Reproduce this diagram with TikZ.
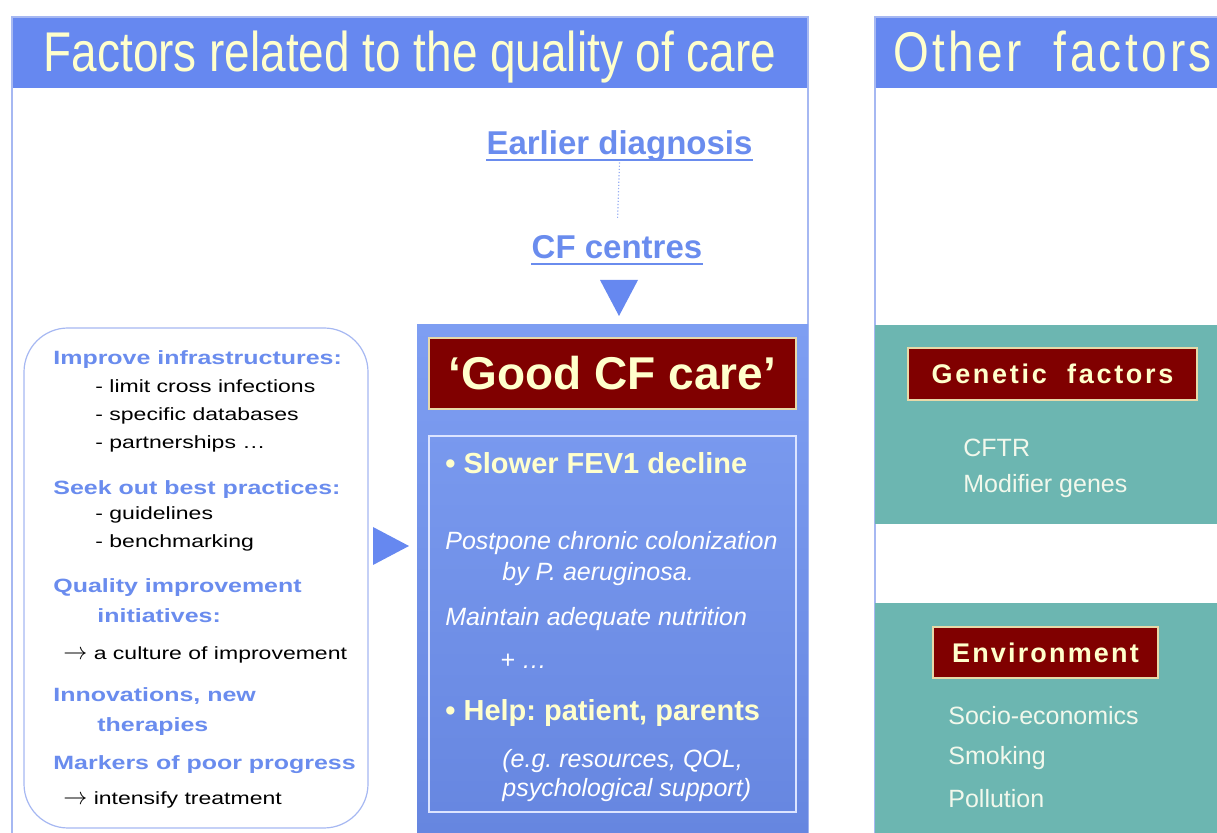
\documentclass[tikz,border=0pt]{standalone}
\usepackage{fontspec}
\setmainfont{Liberation Sans}
\newfontfamily\narrowsans[FakeStretch=0.82]{Liberation Sans}
\newfontfamily\widesans[FakeStretch=1.3]{Liberation Sans}
\usetikzlibrary{calc}
\frenchspacing
\definecolor{header_blue}{HTML}{6688F0}
\definecolor{title_cream}{HTML}{FFFFCC}
\definecolor{link_blue}{HTML}{6A8CEE}
\definecolor{panel_line_colour}{HTML}{A6B8F2}
\definecolor{label_red}{HTML}{800000}
\definecolor{label_border}{HTML}{E8D9A8}
\definecolor{goal_top}{HTML}{7E9EF2}
\definecolor{goal_bottom}{HTML}{6686E0}
\definecolor{inner_frame_colour}{HTML}{DCE4FF}
\definecolor{factor_teal}{HTML}{6CB6B1}
\definecolor{other_text}{HTML}{F2F8EC}
\tikzstyle{panel_line} =[draw=panel_line_colour,line width=0.6pt]
\tikzstyle{panel_title} =[anchor=base,inner sep=0pt,text=title_cream,font=\narrowsans\fontsize{28}{30}\selectfont]
\tikzstyle{care_link} =[anchor=base,inner sep=0pt,text=link_blue,font=\bfseries\fontsize{16.5}{18}\selectfont]
\tikzstyle{red_label} =[fill=label_red,draw=label_border,line width=0.6pt,text=title_cream,inner sep=0pt]
\tikzstyle{goal_bold} =[anchor=base west,inner sep=0pt,text=title_cream,font=\bfseries\fontsize{14.5}{16}\selectfont]
\tikzstyle{goal_italic} =[anchor=base west,inner sep=0pt,text=white,font=\itshape\fontsize{12.5}{14}\selectfont]
\tikzstyle{measure_head} =[anchor=base west,inner sep=0pt,text=link_blue,font=\widesans\bfseries\fontsize{9.6}{11}\selectfont]
\tikzstyle{measure_item} =[anchor=base west,inner sep=0pt,text=black,font=\widesans\fontsize{8.85}{10}\selectfont]
\tikzstyle{other_item} =[anchor=base west,inner sep=0pt,text=other_text,font=\fontsize{12.5}{14}\selectfont]
\newcommand{\leadarrow}{{\fontsize{12}{12}\selectfont$\rightarrow$}}

\begin{document}
\begin{tikzpicture}[x=0.5pt,y=-0.5pt]

    \useasboundingbox (0,0) rectangle (1217,833);



    % Frame and title of the quality of care panel
    \fill[header_blue] (12,17) rectangle (808,88);
    \draw[panel_line] (12,833) -- (12,17) -- (808,17) -- (808,833);
    \node[panel_title] (quality_panel_title) at (410,72) {Factors related to the quality of care};

    % Frame and title of the other factors panel
    \fill[header_blue] (875,17) rectangle (1217,88);
    \draw[panel_line] (875,833) -- (875,17) -- (1217,17);
    \node[panel_title,anchor=base west] (other_panel_title) at (893,72) {\addfontfeature{LetterSpace=6}Other\ \ factors};



    % Genetic factors
    \fill[factor_teal] (875,325) rectangle (1217,524);
    \node[red_label,minimum width=144.5pt,minimum height=26pt,font=\bfseries\fontsize{13.5}{15}\selectfont] (genetic_factors_label) at (1052.5,374) {\addfontfeature{LetterSpace=10}Genetic\ \ factors};
    \node[other_item] (cftr_item) at (963,457) {CFTR};
    \node[other_item] (modifier_genes_item) at (963,493) {Modifier genes};

    % Environment
    \fill[factor_teal] (875,603) rectangle (1217,833);
    \node[red_label,minimum width=112.5pt,minimum height=25.5pt,font=\bfseries\fontsize{13.5}{15}\selectfont] (environment_label) at (1045.5,652.5) {\addfontfeature{LetterSpace=8}Environment};
    \node[other_item] (socio_economics_item) at (948,725) {Socio-economics};
    \node[other_item] (smoking_item) at (948,765) {Smoking};
    \node[other_item] (pollution_item) at (948,808) {Pollution};



    % Earlier diagnosis down to the CF centres
    \node[care_link] (earlier_diagnosis) at (619.5,155) {Earlier diagnosis};
    \node[care_link] (cf_centres) at (617,259) {CF centres};
    \draw[link_blue,line width=0.6pt] ($(earlier_diagnosis.base west)+(0,5)$) -- ($(earlier_diagnosis.base east)+(0,5)$);
    \draw[link_blue,line width=0.6pt] ($(cf_centres.base west)+(0,5)$) -- ($(cf_centres.base east)+(0,5)$);
    \draw[link_blue!70,densely dotted,line width=0.6pt,shorten >=8pt] (earlier_diagnosis.south) -- (cf_centres.north);
    \fill[header_blue] (600,280) -- (638,280) -- (619,316) -- cycle;

    % Good CF care box
    \shade[top color=goal_top,bottom color=goal_bottom] (417,325) rectangle (808,833);
    \node[red_label,minimum width=183.5pt,minimum height=35.5pt,font=\bfseries\fontsize{23}{26}\selectfont] (good_care_label) at (612.5,373.5) {`Good CF care'};
    \draw[draw=inner_frame_colour,line width=0.6pt] (429,436) rectangle (796,812);
    \node[goal_bold] (slower_decline) at (445,474) {\textbullet\ Slower FEV1 decline};
    \node[goal_italic] (postpone_line) at (445,550) {Postpone chronic colonization};
    \node[goal_italic] (aeruginosa_line) at (502,581) {by P. aeruginosa.};
    \node[goal_italic] (nutrition_line) at (445,626) {Maintain adequate nutrition};
    \node[goal_italic] (more_line) at (500,669) {+ \ldots};
    \node[goal_bold] (help_line) at (445,721) {\textbullet\ Help: patient, parents};
    \node[goal_italic] (resources_line) at (502,768) {(e.g. resources, QOL,};
    \node[goal_italic] (support_line) at (502,797) {psychological support)};



    % Measures box and its arrow into the Good CF care box
    \draw[panel_line,fill=white,rounded corners=22pt] (24,328) rectangle (368,828);
    \fill[header_blue] (373,527) -- (409,546) -- (373,565) -- cycle;

    \node[measure_head] (infrastructures_head) at (53,365) {Improve infrastructures:};
    \node[measure_item] (cross_infections_item) at (95,393) {- limit cross infections};
    \node[measure_item] (databases_item) at (95,421) {- specific databases};
    \node[measure_item] (partnerships_item) at (95,449) {- partnerships \ldots};
    \node[measure_head] (practices_head) at (53,495) {Seek out best practices:};
    \node[measure_item] (guidelines_item) at (95,520) {- guidelines};
    \node[measure_item] (benchmarking_item) at (95,548) {- benchmarking};
    \node[measure_head] (quality_head) at (53,593) {Quality improvement};
    \node[measure_head] (initiatives_head) at (97,623) {initiatives:};
    \node[measure_item] (culture_item) at (63,660) {\leadarrow\ a culture of improvement};
    \node[measure_head] (innovations_head) at (53,702) {Innovations, new};
    \node[measure_head] (therapies_head) at (97,732) {therapies};
    \node[measure_head] (markers_head) at (53,770) {Markers of poor progress};
    \node[measure_item] (intensify_item) at (63,805) {\leadarrow\ intensify treatment};



\end{tikzpicture}
\end{document}
